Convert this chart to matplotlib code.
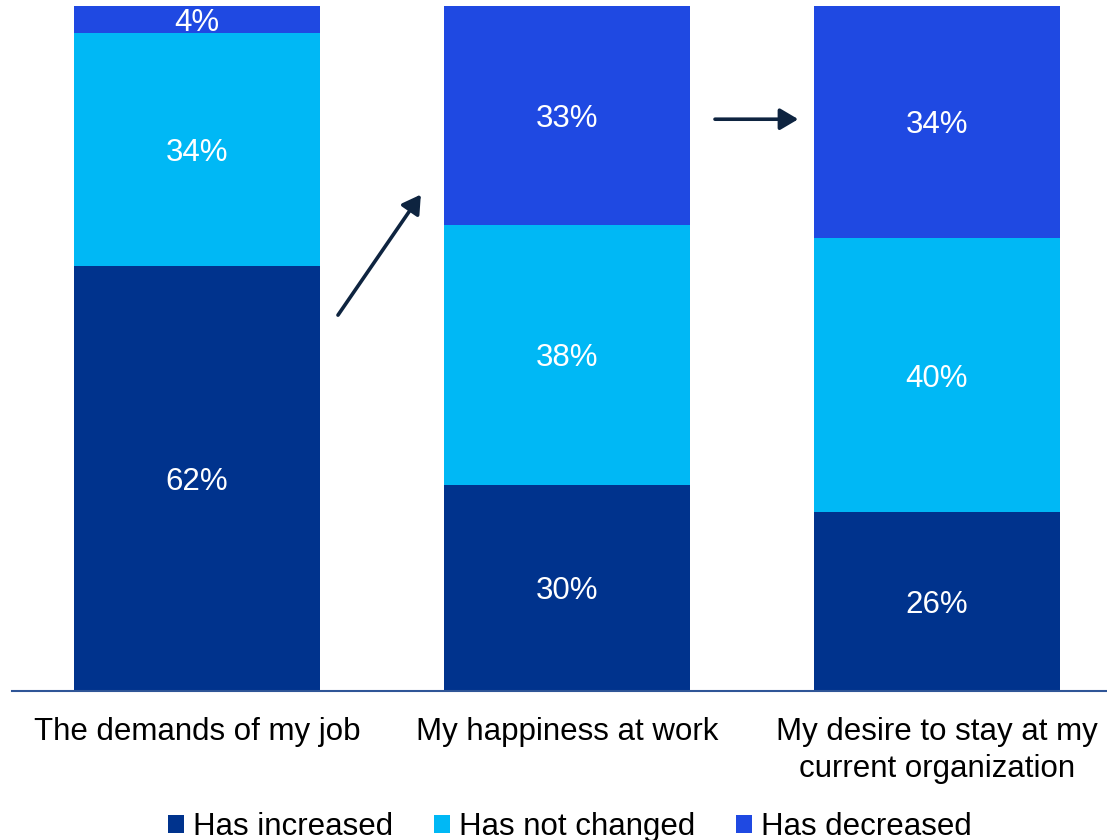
import matplotlib
matplotlib.use("Agg")
import matplotlib.pyplot as plt
import numpy as np

plt.rcParams['font.family'] = ['Liberation Sans', 'DejaVu Sans']

categories = ["The demands of my job", "My happiness at work",
              "My desire to stay at my\ncurrent organization"]
series_names = ["Has increased", "Has not changed", "Has decreased"]
increased = [62, 30, 26]
not_changed = [34, 38, 40]
decreased = [4, 33, 34]
colors = ["#00338D", "#00B8F5", "#1F49E2"]

# annotation arrows (data coords: x category units, y percent)
arrow_starts = [(0.381, 54.8), (1.40, 83.4)]
arrow_ends = [(0.605, 72.4), (1.625, 83.4)]

W, H = 1107, 840
fig = plt.figure(figsize=(W / 100, H / 100), dpi=100)
ax_left = 12 / W
ax_bottom = (H - 690.5) / H
ax_top = (H - 5.5) / H
ax = fig.add_axes([ax_left, ax_bottom, 1 - ax_left, ax_top - ax_bottom])

x = np.arange(len(categories))
bw = 246 / 370
bottom = np.zeros(len(categories))
for name, vals, c in zip(series_names, [increased, not_changed, decreased], colors):
    vals = np.array(vals, dtype=float)
    ax.bar(x, vals, bw, bottom=bottom, color=c, label=name, zorder=2)
    for xi, b, v in zip(x, bottom, vals):
        top = min(b + v, 100)
        ax.text(xi, (b + top) / 2, f"{int(v)}%", ha="center", va="center_baseline",
                color="white", fontsize=22.5)
    bottom += vals

ax.set_xlim(-0.5, (1107 - 197) / 370)
ax.set_ylim(0, 100)
ax.set_yticks([])
ax.set_xticks(x)
ax.set_xticklabels(categories, fontsize=22.5, linespacing=1.3)
ax.tick_params(axis="x", length=0, pad=19)
for s in ["top", "right", "left"]:
    ax.spines[s].set_visible(False)
ax.spines["bottom"].set_color("#2F5597")
ax.spines["bottom"].set_linewidth(1.5)

for (x0, y0), (x1, y1) in zip(arrow_starts, arrow_ends):
    ax.annotate("", xy=(x1, y1), xytext=(x0, y0),
                arrowprops=dict(arrowstyle="-|>,head_length=1.1,head_width=0.65",
                                color="#0E2440", lw=2.6, shrinkA=0, shrinkB=0),
                annotation_clip=False)

leg = fig.legend(loc="center", bbox_to_anchor=(570 / W, (H - 827) / H), ncol=3,
                 frameon=False, fontsize=22.5, handlelength=0.5, handleheight=0.5,
                 handletextpad=0.3, columnspacing=1.3, borderpad=0, borderaxespad=0)

fig.savefig("out.png", dpi=100)
